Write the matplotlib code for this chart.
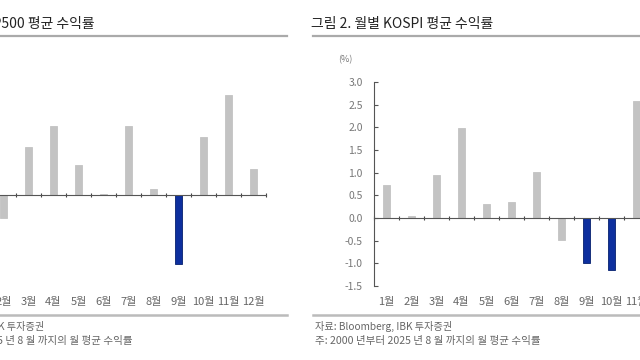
import matplotlib
matplotlib.use('Agg')
import matplotlib.pyplot as plt
from matplotlib.lines import Line2D

plt.rcParams['font.family'] = ['Noto Sans CJK KR', 'DejaVu Sans']

months = ['1월', '2월', '3월', '4월', '5월', '6월', '7월', '8월', '9월', '10월', '11월', '12월']
spx_ret = [0.90, -0.50, 1.06, 1.54, 0.66, 0.02, 1.54, 0.14, -1.52, 1.29, 2.22, 0.58]
kospi_ret = [0.72, 0.05, 0.95, 1.99, 0.30, 0.36, 1.01, -0.49, -1.00, -1.15, 2.57, 1.40]
spx_blue = ['9월']
kospi_blue = ['9월', '10월']

spx_title = '그림 1. 월별 S&P500 평균 수익률'
kospi_title = '그림 2. 월별 KOSPI 평균 수익률'
src = '자료: Bloomberg, IBK 투자증권'
note = '주: 2000 년부터 2025 년 8 월 까지의 월 평균 수익률'

W, H = 640, 360
GRAY = '#c3c3c3'
BLUE = '#0d2f9e'

fig = plt.figure(figsize=(6.4, 3.6), dpi=100)


def fx(px):
    return px / W


def fy(py):
    return 1 - py / H


def panel(x0, title, vals, blue, ylim, yticks):
    # x0 = pixel position of the y axis
    ax = fig.add_axes([fx(x0), fy(286), 300 / W, 204 / H])
    pos = list(range(1, len(months) + 1))
    cols = [BLUE if m in blue else GRAY for m in months]
    edges = ['#06206e' if m in blue else GRAY for m in months]
    ax.bar(pos, vals, width=0.3, color=cols, edgecolor=edges, linewidth=0.6, zorder=2)
    ax.set_xlim(0.5, 12.5)
    ax.set_ylim(*ylim)
    ax.set_yticks(yticks)
    ax.set_yticklabels([f'{t:.1f}' if t >= 0 else f'-{abs(t):.1f}' for t in yticks])
    ax.set_xticks([p + 0.5 for p in range(0, 13)])
    ax.set_xticklabels([])
    for s in ['top', 'right']:
        ax.spines[s].set_visible(False)
    ax.spines['bottom'].set_position(('data', 0))
    ax.spines['bottom'].set_color('#555555')
    ax.spines['left'].set_color('#555555')
    ax.tick_params(axis='y', direction='in', length=3, pad=8, labelsize=7.5, labelcolor='#777777', color='#555555')
    ax.tick_params(axis='x', direction='inout', length=3, color='#444444')
    ax.patch.set_visible(False)
    ty = -(302 - 286) / 204
    for p, m in zip(pos, months):
        ax.text(p, ty, m, transform=ax.get_xaxis_transform(), ha='center', va='center',
                fontsize=8, color='#666666')
    fig.text(fx(x0 - 29), fy(60), '(%)', ha='center', va='center', fontsize=6.5, color='#777777')
    fig.text(fx(x0 - 63), fy(24), title, ha='left', va='center', fontsize=10, weight='medium', color='#222222')
    fig.text(fx(x0 - 59), fy(326), src, ha='left', va='center', fontsize=7.3, color='#666666')
    fig.text(fx(x0 - 59), fy(341), note, ha='left', va='center', fontsize=7.6, color='#666666')
    fig.add_artist(Line2D([fx(x0 - 61), fx(x0 + 321)], [fy(36), fy(36)], transform=fig.transFigure,
                          color='#aaaaaa', lw=1.6))
    fig.add_artist(Line2D([fx(x0 - 61), fx(x0 + 321)], [fy(315), fy(315)], transform=fig.transFigure,
                          color='#bbbbbb', lw=1.8))
    return ax


panel(-34, spx_title, spx_ret, spx_blue, (-2.0, 2.5), [-2.0, -1.5, -1.0, -0.5, 0.0, 0.5, 1.0, 1.5, 2.0, 2.5])
panel(374, kospi_title, kospi_ret, kospi_blue, (-1.5, 3.0), [-1.5, -1.0, -0.5, 0.0, 0.5, 1.0, 1.5, 2.0, 2.5, 3.0])

fig.savefig('out.png', dpi=100)
